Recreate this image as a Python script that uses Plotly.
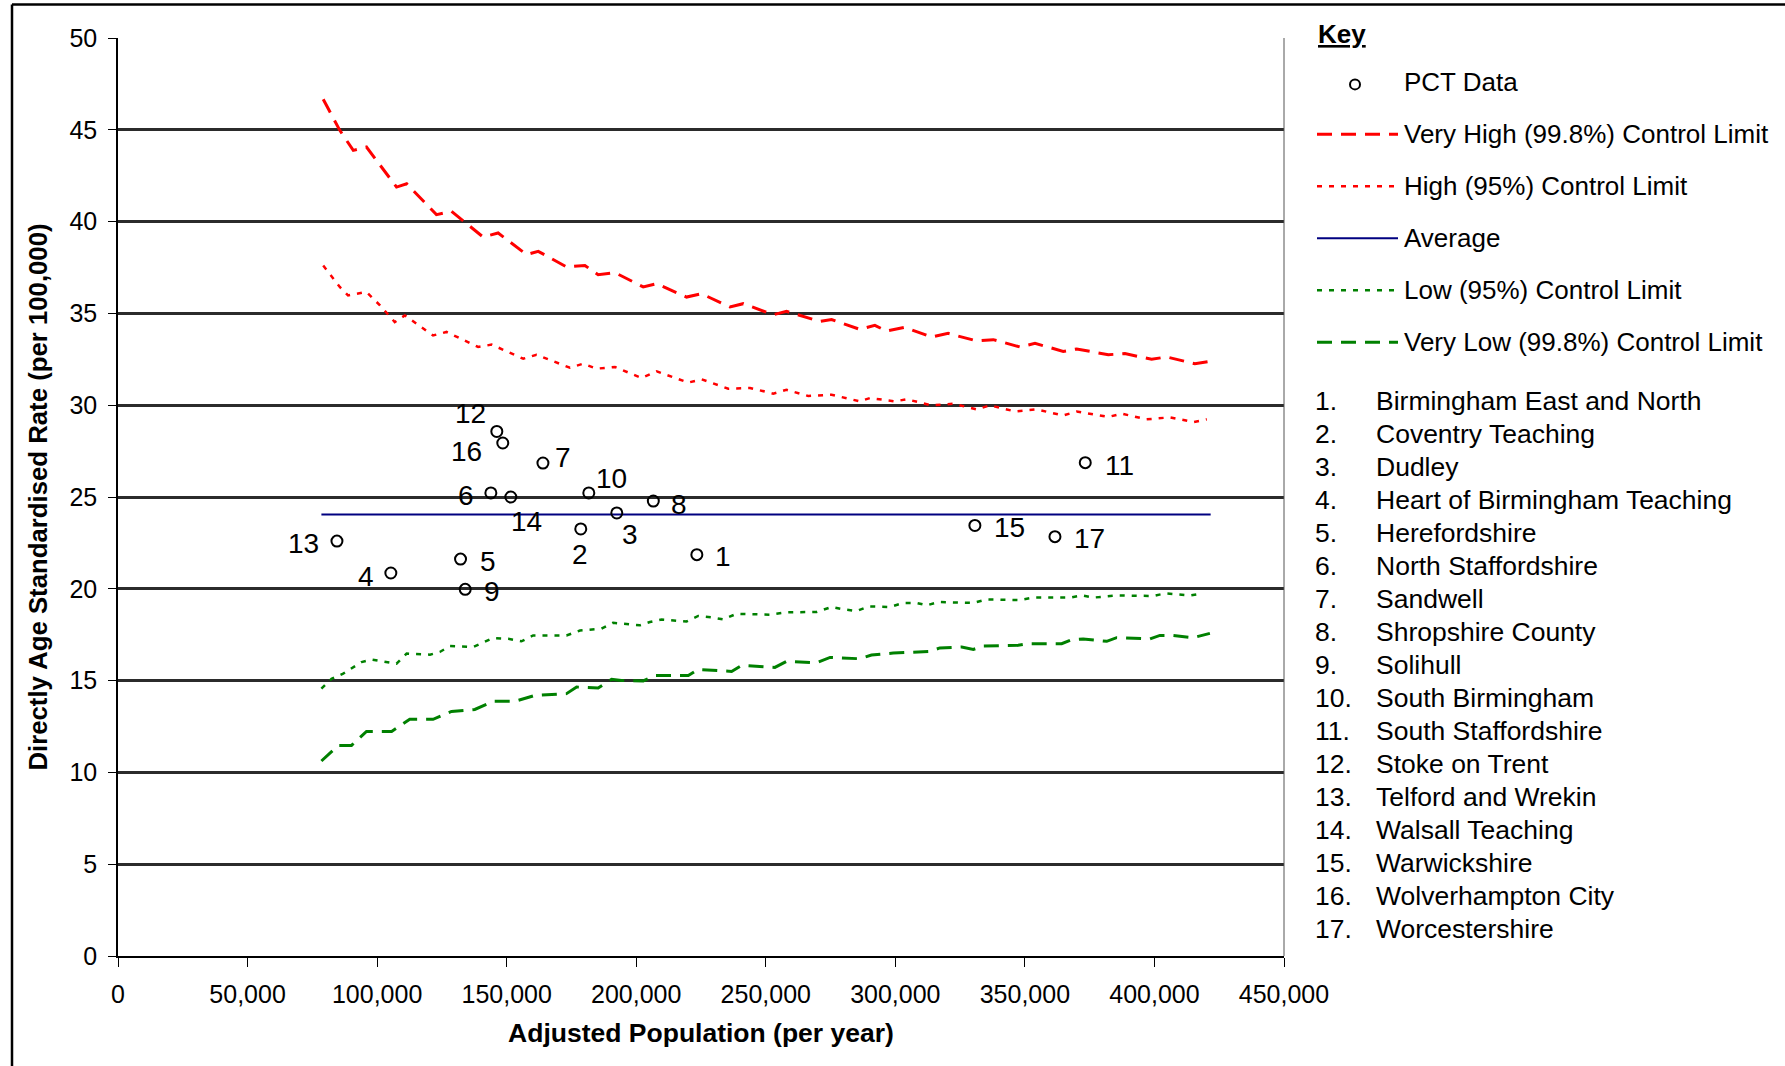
import plotly.graph_objects as go

# ---------------- data ----------------
pct_labels = [str(i) for i in range(1, 18)]
pct_x = [223400, 178600, 192500, 105300, 132200, 143900, 164000, 206600, 134000,
         181700, 373300, 146200, 84500, 151600, 330700, 148500, 361600]
pct_y = [21.86, 23.26, 24.13, 20.86, 21.62, 25.22, 26.85, 24.78, 19.97,
         25.22, 26.87, 28.57, 22.60, 25.00, 23.45, 27.94, 22.84]

pct_names = ["Birmingham East and North", "Coventry Teaching", "Dudley",
             "Heart of Birmingham Teaching", "Herefordshire", "North Staffordshire",
             "Sandwell", "Shropshire County", "Solihull", "South Birmingham",
             "South Staffordshire", "Stoke on Trent", "Telford and Wrekin",
             "Walsall Teaching", "Warwickshire", "Wolverhampton City", "Worcestershire"]

avg_x = [78500, 421700]
avg_y = [24.05, 24.05]

vh_x = [79200, 85600, 90800, 95900, 107500, 111400, 122900, 128700, 140900, 146700,
        157700, 162200, 173100, 180200, 185300, 191800, 202700, 207900, 219400, 225200,
        236200, 241300, 252900, 258000, 270900, 275400, 286300, 292100, 296600, 303700,
        314000, 320400, 331400, 337800, 348100, 353900, 364800, 370000, 382200, 388600,
        398900, 404700, 415600, 421400]
vh_y = [46.66, 44.97, 43.88, 44.06, 41.88, 42.06, 40.38, 40.56, 39.16, 39.38,
        38.20, 38.38, 37.53, 37.61, 37.11, 37.22, 36.44, 36.62, 35.89, 36.07,
        35.35, 35.53, 34.93, 35.11, 34.56, 34.67, 34.13, 34.35, 34.04, 34.24,
        33.71, 33.91, 33.50, 33.57, 33.17, 33.37, 32.93, 33.06, 32.75, 32.81,
        32.50, 32.63, 32.26, 32.39]

hi_x = [79200, 85600, 88800, 95900, 101100, 106800, 110700, 121600, 126800, 139000,
        144200, 156400, 161500, 174400, 179500, 184700, 191800, 202100, 207900, 220100,
        225200, 235500, 243900, 252900, 258000, 266400, 275400, 286300, 290200, 299800,
        304400, 314000, 322400, 331400, 336500, 346200, 354500, 364800, 370000, 382200,
        387400, 397000, 406000, 415000, 420200]
hi_y = [37.61, 36.44, 35.98, 36.17, 35.44, 34.53, 34.89, 33.80, 33.99, 33.17,
        33.30, 32.53, 32.75, 32.04, 32.26, 31.99, 32.08, 31.48, 31.84, 31.23,
        31.41, 30.90, 30.94, 30.63, 30.84, 30.50, 30.57, 30.21, 30.39, 30.21,
        30.32, 29.99, 30.08, 29.77, 29.99, 29.66, 29.77, 29.44, 29.66, 29.36,
        29.54, 29.23, 29.34, 29.08, 29.23]

lo_x = [78500, 82400, 86900, 94000, 97900, 107500, 111400, 120400, 124200, 128100,
        137100, 144800, 150600, 155700, 160200, 173100, 178300, 186600, 191100, 201400,
        205300, 209800, 219400, 223900, 229700, 233600, 238700, 251600, 258000, 269600,
        275400, 279900, 285100, 289600, 297900, 303100, 308200, 312100, 316600, 330100,
        335200, 348100, 353200, 367400, 371900, 376400, 385400, 394400, 399600, 404100,
        413700, 418800]
lo_y = [14.56, 15.10, 15.38, 16.01, 16.15, 15.92, 16.47, 16.41, 16.56, 16.88,
        16.83, 17.32, 17.28, 17.14, 17.46, 17.46, 17.73, 17.83, 18.15, 18.01,
        18.19, 18.33, 18.22, 18.52, 18.43, 18.33, 18.64, 18.59, 18.72, 18.74,
        19.01, 18.88, 18.79, 19.04, 19.01, 19.23, 19.23, 19.10, 19.28, 19.23,
        19.42, 19.39, 19.52, 19.52, 19.64, 19.52, 19.64, 19.64, 19.61, 19.75,
        19.64, 19.75]

vl_x = [78500, 85000, 90100, 95900, 105600, 112600, 121600, 128700, 137700, 144800,
        153200, 160900, 173100, 177000, 185300, 190500, 194300, 202700, 207200, 220100,
        223900, 232300, 236800, 240700, 253500, 258000, 269600, 274800, 286300, 290800,
        299200, 313300, 317200, 325600, 330100, 333900, 347400, 351300, 364200, 368000,
        372500, 381600, 385400, 398300, 402100, 406700, 415000, 421400]
vl_y = [10.62, 11.47, 11.47, 12.23, 12.23, 12.89, 12.89, 13.32, 13.43, 13.87,
        13.87, 14.19, 14.29, 14.65, 14.60, 15.07, 15.01, 14.98, 15.28, 15.28,
        15.61, 15.56, 15.50, 15.83, 15.72, 16.05, 15.97, 16.26, 16.19, 16.39,
        16.50, 16.59, 16.78, 16.83, 16.70, 16.88, 16.92, 17.01, 17.01, 17.23,
        17.27, 17.14, 17.34, 17.27, 17.46, 17.46, 17.34, 17.57]

legend_items = ["PCT Data", "Very High (99.8%) Control Limit", "High (95%) Control Limit",
                "Average", "Low (95%) Control Limit", "Very Low (99.8%) Control Limit"]

# label offsets (px) for each PCT point label: (dx right, dy down)
label_dx = [26, -1, 13, -25, 27, -25, 20, 26, 27, 23, 34, -26, -33, 16, 35, -36, 35]
label_dy = [1, 25, 21, 2, 1, 2, -7, 2, 1, -15, 2, -19, 1, 23, 1, 7, 1]

# ---------------- layout geometry ----------------
W, H = 1785, 1066
L, R, T, B = 118, 1284, 37.6, 956
FONT = "Liberation Sans, Arial, sans-serif"
RED, GREEN, NAVY = "#FF0000", "#008000", "#000080"


def px2x(px):
    return (px - L) / (R - L)


def px2y(py):
    return (B - py) / (B - T)


fig = go.Figure()

fig.add_trace(go.Scatter(x=vh_x, y=vh_y, mode="lines",
                         line=dict(color=RED, width=3, dash="15px,9px"), name=legend_items[1]))
fig.add_trace(go.Scatter(x=hi_x, y=hi_y, mode="lines",
                         line=dict(color=RED, width=2.5, dash="5px,7px"), name=legend_items[2]))
fig.add_trace(go.Scatter(x=avg_x, y=avg_y, mode="lines",
                         line=dict(color=NAVY, width=2), name=legend_items[3]))
fig.add_trace(go.Scatter(x=lo_x, y=lo_y, mode="lines",
                         line=dict(color=GREEN, width=2.5, dash="5px,7px"), name=legend_items[4]))
fig.add_trace(go.Scatter(x=vl_x, y=vl_y, mode="lines",
                         line=dict(color=GREEN, width=3, dash="15px,9px"), name=legend_items[5]))
fig.add_trace(go.Scatter(x=pct_x, y=pct_y, mode="markers",
                         marker=dict(symbol="circle-open", size=11, color="black",
                                     line=dict(width=2, color="black")),
                         name=legend_items[0]))

annotations = []
for lab, xv, yv, dx, dy in zip(pct_labels, pct_x, pct_y, label_dx, label_dy):
    annotations.append(dict(x=xv, y=yv, xref="x", yref="y", text=lab, showarrow=False,
                            xshift=dx, yshift=-dy - 1, xanchor="center", yanchor="middle",
                            font=dict(family=FONT, size=28, color="black")))

# Key
annotations.append(dict(x=px2x(1316), y=px2y(34), xref="paper", yref="paper",
                        text="<b><u>Key</u></b>", showarrow=False, xanchor="left",
                        yanchor="middle", font=dict(family=FONT, size=26, color="black")))
leg_y = [82, 134, 186, 238, 290, 342]
for txt, yy in zip(legend_items, leg_y):
    annotations.append(dict(x=px2x(1402), y=px2y(yy), xref="paper", yref="paper",
                            text=txt, showarrow=False, xanchor="left", yanchor="middle",
                            font=dict(family=FONT, size=26, color="black")))

for i, name in enumerate(pct_names):
    yy = 401 + 33.0 * i
    annotations.append(dict(x=px2x(1313), y=px2y(yy), xref="paper", yref="paper",
                            text=f"{i + 1}.", showarrow=False, xanchor="left",
                            yanchor="middle", font=dict(family=FONT, size=26.5, color="black")))
    annotations.append(dict(x=px2x(1374), y=px2y(yy), xref="paper", yref="paper",
                            text=name, showarrow=False, xanchor="left",
                            yanchor="middle", font=dict(family=FONT, size=26.5, color="black")))

shapes = []
# legend samples
shapes.append(dict(type="circle", xref="paper", yref="paper",
                   x0=px2x(1350), x1=px2x(1360), y0=px2y(89), y1=px2y(79),
                   line=dict(color="black", width=2)))
sample_styles = [(RED, 3, "15px,9px"), (RED, 2.5, "5px,7px"), (NAVY, 2, "solid"),
                 (GREEN, 2.5, "5px,7px"), (GREEN, 3, "15px,9px")]
for (col, wd, ds), yy in zip(sample_styles, leg_y[1:]):
    shapes.append(dict(type="line", xref="paper", yref="paper",
                       x0=px2x(1317), x1=px2x(1398), y0=px2y(yy), y1=px2y(yy),
                       line=dict(color=col, width=wd, dash=ds)))
# right edge of plot area (thin)
shapes.append(dict(type="line", xref="paper", yref="paper", x0=1, x1=1, y0=0, y1=1,
                   line=dict(color="#555555", width=1)))
# outer frame (left and top)
shapes.append(dict(type="line", xref="paper", yref="paper", x0=px2x(12), x1=px2x(12),
                   y0=px2y(4), y1=px2y(1070), line=dict(color="black", width=2.5)))
shapes.append(dict(type="line", xref="paper", yref="paper", x0=px2x(12), x1=px2x(1790),
                   y0=px2y(4), y1=px2y(4), line=dict(color="black", width=2.5)))

fig.update_layout(
    width=W, height=H,
    margin=dict(l=L, r=W - R, t=T, b=H - B, autoexpand=False),
    paper_bgcolor="white", plot_bgcolor="white",
    showlegend=False,
    font=dict(family=FONT, size=25, color="black"),
    annotations=annotations, shapes=shapes,
    xaxis=dict(range=[0, 450000], tickmode="linear", tick0=0, dtick=50000,
               tickformat=",", showgrid=False, zeroline=False,
               showline=True, linecolor="black", linewidth=2,
               ticks="outside", ticklen=9, tickwidth=1, tickcolor="black",
               ticklabelstandoff=6,
               tickfont=dict(family=FONT, size=25, color="black"),
               title=dict(text="<b>Adjusted Population (per year)</b>", standoff=16,
                          font=dict(family=FONT, size=26.5, color="black"))),
    yaxis=dict(range=[0, 50], tickmode="linear", tick0=0, dtick=5,
               showgrid=True, gridcolor="#2b2b2b", gridwidth=3, zeroline=False,
               showline=True, linecolor="black", linewidth=1.5,
               ticks="outside", ticklen=8, tickwidth=1, tickcolor="black",
               ticklabelstandoff=6,
               tickfont=dict(family=FONT, size=25, color="black"),
               title=dict(text="<b>Directly Age Standardised Rate (per 100,000)</b>",
                          standoff=14, font=dict(family=FONT, size=25.75, color="black"))),
)

fig.write_html("out.html", config={"displayModeBar": False},
               post_script="document.body.style.margin='0';document.body.style.overflow='hidden';")
